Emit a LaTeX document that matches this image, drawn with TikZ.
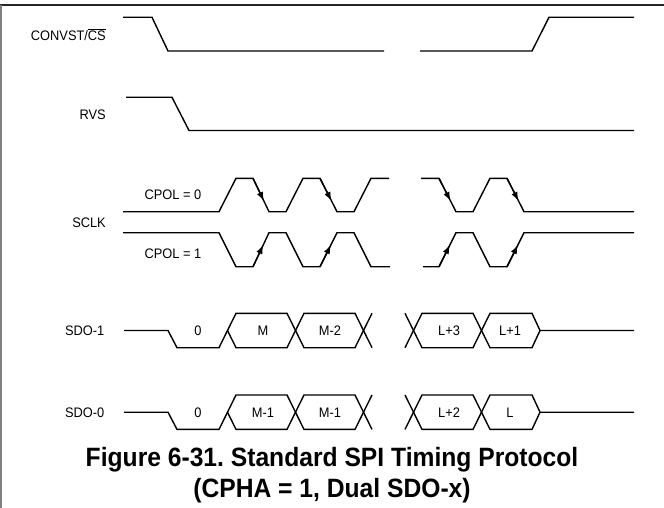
\documentclass[tikz,border=0pt]{standalone}
\usepackage{fontspec}
\setmainfont[FakeStretch=0.93]{Liberation Sans}
\usetikzlibrary{arrows.meta,calc}
\frenchspacing
\tikzset{
  wave/.style={line width=1.4pt, line join=miter, line cap=butt},
  arr/.style={line width=1.4pt, -{Latex[length=9pt,width=6.5pt]}},
  lbl/.style={font=\fontsize{13.8}{16}\selectfont, inner sep=0pt},
  ttl/.style={font=\fontsize{26.5}{30}\selectfont\bfseries, inner sep=0pt},
}
\begin{document}
\begin{tikzpicture}[x=1pt,y=-1pt]
\useasboundingbox (0,0) rectangle (664,508);
% frame
\draw[line width=1.3pt, black!85] (0,5) -- (664,5);
\draw[line width=2pt, black!50] (1,5) -- (1,508);

% labels
\node[lbl, anchor=base east] (lcs) at (106,40.3) {CONVST/$\overline{\mbox{CS}}$};
\node[lbl, anchor=base east] (lrvs) at (106,119.3) {RVS};
\node[lbl, anchor=base east] (lsclk) at (106,227.3) {SCLK};
\node[lbl, anchor=base] (lcp0) at (173,200) {CPOL = 0};
\node[lbl, anchor=base] (lcp1) at (173,258.3) {CPOL = 1};
\node[lbl, anchor=base east] (lsdo1) at (104.5,335.5) {SDO-1};
\node[lbl, anchor=base east] (lsdo0) at (104.5,417) {SDO-0};

% CONVST/CS
\draw[wave] (123,17.3) -- (152,17.3) -- (168,51) -- (384,51);
\draw[wave] (420,51) -- (532,51) -- (549,17.3) -- (634,17.3);
% RVS
\draw[wave] (126,97.3) -- (172,97.3) -- (189,130.5) -- (634,130.5);

% SCLK CPOL=0
\def\hi{178.3}\def\lo{211.7}
\draw[wave] (123,\lo) -- (219,\lo) -- (236,\hi) -- (253,\hi) -- (269,\lo) -- (286,\lo) -- (303,\hi) -- (320,\hi) -- (337,\lo) -- (354,\lo) -- (371,\hi) -- (389,\hi);
\draw[wave] (421,\hi) -- (439,\hi) -- (456,\lo) -- (473,\lo) -- (490,\hi) -- (507,\hi) -- (524,\lo) -- (634,\lo);
\foreach \a/\b in {253/269, 320/337, 439/456, 507/524}
  \draw[arr] (\a,\hi) -- ($(\a,\hi)!0.68!(\b,\lo)$);

% SCLK CPOL=1
\def\hii{232.7}\def\loo{266.7}
\draw[wave] (123,\hii) -- (219,\hii) -- (236,\loo) -- (253,\loo) -- (269,\hii) -- (286,\hii) -- (303,\loo) -- (320,\loo) -- (337,\hii) -- (354,\hii) -- (371,\loo) -- (390,\loo);
\draw[wave] (423,\loo) -- (439,\loo) -- (456,\hii) -- (473,\hii) -- (490,\loo) -- (507,\loo) -- (524,\hii) -- (634,\hii);
\foreach \a/\b in {253/269, 320/337, 439/456, 507/524}
  \draw[arr] (\a,\loo) -- ($(\a,\loo)!0.64!(\b,\hii)$);

% SDO rows
\foreach \m/\nm/\ta/\tb/\tc/\td/\te in {330.5/s1/0/M/M-2/L+3/L+1, 412.2/s0/0/M-1/M-1/L+2/L}{
  \pgfmathsetmacro{\t}{\m-17.2}
  \pgfmathsetmacro{\b}{\m+17.2}
  \draw[wave] (124,\m) -- (168,\m) -- (177,\b) -- (219,\b) -- (236,\t) -- (287,\t) -- (304,\b) -- (355,\b) -- (372,\t);
  \draw[wave] (227.5,\m) -- (236,\b) -- (287,\b) -- (304,\t) -- (355,\t) -- (372,\b);
  \draw[wave] (405,\t) -- (422,\b) -- (473,\b) -- (490,\t) -- (532,\t) -- (540,\m) -- (634,\m);
  \draw[wave] (405,\b) -- (422,\t) -- (473,\t) -- (490,\b) -- (532,\b) -- (540,\m);
  \node[lbl, anchor=base] (\nm a) at (198,\m+5) {\ta};
  \node[lbl, anchor=base] (\nm b) at (263,\m+5) {\tb};
  \node[lbl, anchor=base] (\nm c) at (330,\m+5) {\tc};
  \node[lbl, anchor=base] (\nm d) at (449,\m+5) {\td};
  \node[lbl, anchor=base] (\nm e) at (510,\m+5) {\te};
}

% title
\node[ttl, anchor=base] (t1) at (332,466) {Figure 6-31. Standard SPI Timing Protocol};
\node[ttl, anchor=base] (t2) at (332,497) {(CPHA = 1, Dual SDO-x)};
\end{tikzpicture}
\end{document}
